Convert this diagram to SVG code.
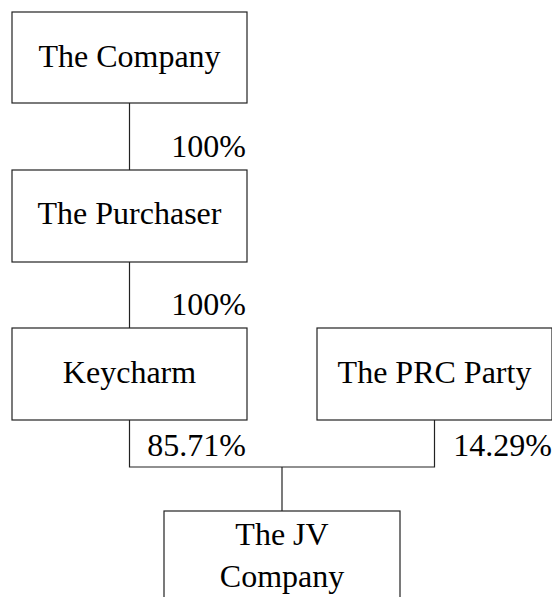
<svg xmlns="http://www.w3.org/2000/svg" width="552" height="597" viewBox="0 0 552 597">
<style>
.box{fill:#fff;stroke:#222;stroke-width:1.2}
.t{font-family:"Liberation Serif","Times New Roman",serif;font-size:32px;fill:#000}
.c{text-anchor:middle}
.r{text-anchor:end}
.ln{fill:none;stroke:#222;stroke-width:1.2}
</style>
<rect width="552" height="597" fill="#fff"/>
<g id="connectors">
<line class="ln" x1="129.5" y1="103" x2="129.5" y2="170"/>
<line class="ln" x1="129.5" y1="262" x2="129.5" y2="328"/>
<polyline class="ln" points="129.5,420 129.5,467 434.5,467 434.5,420"/>
<line class="ln" x1="282" y1="467" x2="282" y2="511"/>
<text class="t r" x="246" y="157">100%</text>
<text class="t r" x="246" y="315">100%</text>
<text class="t r" x="246" y="456">85.71%</text>
<text class="t r" x="552" y="456">14.29%</text>
</g>
<g id="company">
<rect class="box" x="12" y="12" width="235" height="91"/>
<text class="t c" x="129.5" y="67">The Company</text>
</g>
<g id="purchaser">
<rect class="box" x="12" y="170" width="235" height="92"/>
<text class="t c" x="129.5" y="224">The Purchaser</text>
</g>
<g id="keycharm">
<rect class="box" x="12" y="328" width="235" height="92"/>
<text class="t c" x="129.5" y="383">Keycharm</text>
</g>
<g id="prc">
<rect class="box" x="317" y="328" width="235" height="92"/>
<text class="t c" x="434.5" y="383">The PRC Party</text>
</g>
<g id="jv">
<rect class="box" x="164" y="511" width="236" height="100"/>
<text class="t c" x="282" y="545">The JV</text>
<text class="t c" x="282" y="587">Company</text>
</g>
</svg>
